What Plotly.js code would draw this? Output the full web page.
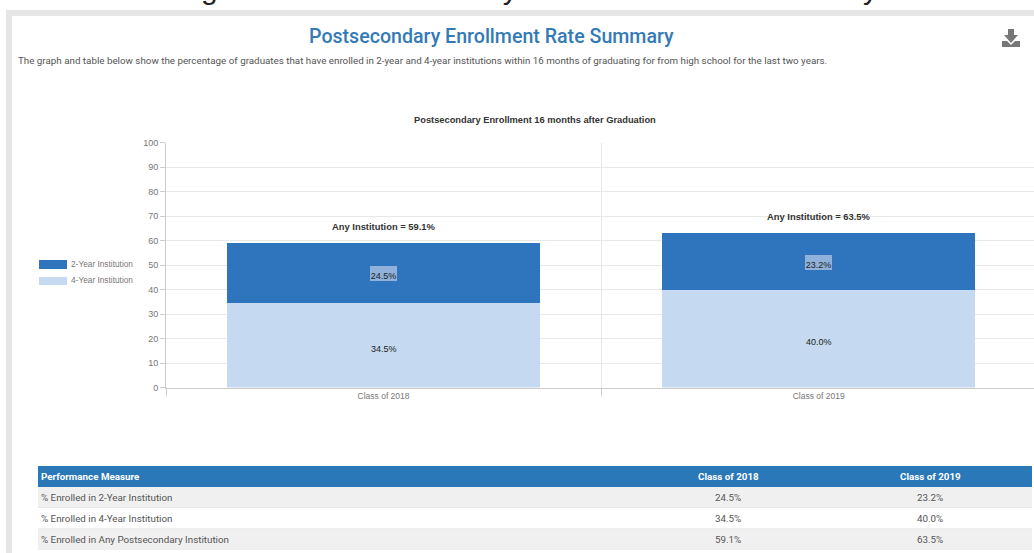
<!DOCTYPE html>
<html><head><meta charset="utf-8">
<script src="https://cdn.plot.ly/plotly-3.0.1.min.js"></script>
<style>html,body{margin:0;padding:0;background:#fff;overflow:hidden}#chart{width:1034px;height:553px}</style>
</head><body><div id="chart"></div>
<script>
const W = 1034, H = 553;
const classes = ["Class of 2018", "Class of 2019"];
const twoYear = [24.5, 23.2];
const fourYear = [34.5, 40.0];
const anyInstitution = [59.1, 63.5];
const yTicks = [0,10,20,30,40,50,60,70,80,90,100];
const measures = ["% Enrolled in 2-Year Institution", "% Enrolled in 4-Year Institution", "% Enrolled in Any Postsecondary Institution"];
const measureValues = [twoYear, fourYear, anyInstitution];
const tableHeader = "Performance Measure";
const rowTops = [487, 508, 529];
const rowBottoms = [508, 529, 550];
const colCenters = [728, 930];
const pct = v => v.toFixed(1) + "%";
const fx = p => p / W, fy = p => 1 - p / H;
const sans = "Liberation Sans, Arial, sans-serif", rob = "Roboto, sans-serif";
const dark = "#2e75bd", light = "#c5daf0", head = "#2a78b8";
const px = (cmds) => cmds.map(c => typeof c === "string" ? c : fx(c[0]) + "," + fy(c[1])).join(" ");

const traces = [
  {type:"bar", name:"4-Year Institution", x:classes, y:fourYear, marker:{color:light}, width:0.72, hoverinfo:"y+name"},
  {type:"bar", name:"2-Year Institution", x:classes, y:twoYear, marker:{color:dark}, width:0.72, hoverinfo:"y+name"}
];

const ann = [];
const T = (text,x,y,size,color,family,anchor,weight) => ann.push({text,xref:"paper",yref:"paper",x:fx(x),y:fy(y),showarrow:false,
  borderpad:0,borderwidth:0,font:{size,color,family,weight:weight||400},xanchor:anchor||"center",yanchor:"middle"});
T("Figure 10. Postsecondary Enrollment Rate Summary",527,-11,30,"#222",sans);
T("Postsecondary Enrollment Rate Summary",491,37,19.6,"#337ab7",rob,"center",500);
T("The graph and table below show the percentage of graduates that have enrolled in 2-year and 4-year institutions within 16 months of graduating for from high school for the last two years.",18,61,9.8,"#555",rob,"left");
T("Postsecondary Enrollment 16 months after Graduation",534.5,120,9.3,"#333",sans,"center",700);
T("2-Year Institution",71,264,8.3,"#777",sans,"left");
T("4-Year Institution",71,280,8.3,"#777",sans,"left");

classes.forEach((c,i)=>{
  const base = {xref:"x",yref:"y",x:c,showarrow:false,yanchor:"middle",borderpad:0,borderwidth:0};
  ann.push(Object.assign({},base,{y:fourYear[i]+twoYear[i],yshift:16,text:"Any Institution = "+pct(anyInstitution[i]),font:{family:sans,size:9.4,color:"#333",weight:700}}));
  ann.push(Object.assign({},base,{y:fourYear[i]+twoYear[i]/2,yshift:-1,text:pct(twoYear[i]),bgcolor:"#8fb1da",width:27,height:15,valign:"bottom",font:{family:sans,size:9,color:"#222"}}));
  ann.push(Object.assign({},base,{y:fourYear[i]/2,yshift:-3.5,text:pct(fourYear[i]),font:{family:sans,size:9,color:"#222"}}));
});

const R = (x0,y0,x1,y1,color)=>({type:"rect",xref:"paper",yref:"paper",x0:fx(x0),x1:fx(x1),y0:fy(y0),y1:fy(y1),fillcolor:color,line:{width:0},layer:"below"});
const shapes = [
  R(6,10,W,16,"#e6e6e6"), R(6,10,12,H,"#e6e6e6"),
  R(39,260,67,269,dark), R(39,277,67,285,light),
  {type:"path",xref:"paper",yref:"paper",fillcolor:"#777",line:{width:0},
   path:px(["M",[1008,29],"L",[1014,29],"L",[1014,35],"L",[1018,35],"L",[1011,43],"L",[1004,35],"L",[1008,35],"Z"])},
  {type:"path",xref:"paper",yref:"paper",fillcolor:"#777",line:{width:0},
   path:px(["M",[1002,41],"L",[1007,41],"L",[1011,45],"L",[1015,41],"L",[1020,41],"L",[1020,47],"L",[1002,47],"Z"])},
  R(38,466,1032,487,head)
];
// table
T(tableHeader,41,476,9.8,"#fff",rob,"left",700);
classes.forEach((c,j)=>T(c,colCenters[j],476,9.8,"#fff",rob,"center",700));
measures.forEach((m,r)=>{
  shapes.push(R(38,rowTops[r],1032,rowBottoms[r],r%2===0?"#f0f0f0":"#ffffff"));
  if(r<2) shapes.push(R(38,rowBottoms[r]-0.5,1032,rowBottoms[r]+0.5,"#dddddd"));
  const cy=(rowTops[r]+rowBottoms[r])/2;
  T(m,41,cy,9.8,"#555",rob,"left");
  measureValues[r].forEach((v,j)=>T(pct(v),colCenters[j],cy,9.8,"#555",rob));
});

Plotly.newPlot("chart", traces, {
  width:W, height:H, margin:{l:0,r:0,t:0,b:0}, paper_bgcolor:"#fff", plot_bgcolor:"#fff",
  barmode:"stack", showlegend:false, annotations:ann, shapes,
  xaxis:{domain:[fx(166),1], type:"category", range:[-0.5,1.495], tickson:"boundaries", ticks:"outside", ticklen:7, tickcolor:"#ccc",
    showgrid:true, gridcolor:"#e8e8e8", showline:true, linecolor:"#ccc", tickfont:{family:sans,size:8.5,color:"#777"}, fixedrange:true},
  yaxis:{domain:[fy(387.5),fy(142.5)], range:[0,100], tickvals:yTicks, ticks:"outside", ticklen:5, tickcolor:"#ccc",
    showgrid:true, gridcolor:"#e8e8e8", showline:true, linecolor:"#ccc", zeroline:false, tickfont:{family:sans,size:9,color:"#777"}, fixedrange:true}
}, {displayModeBar:false, responsive:false});
</script></body></html>
